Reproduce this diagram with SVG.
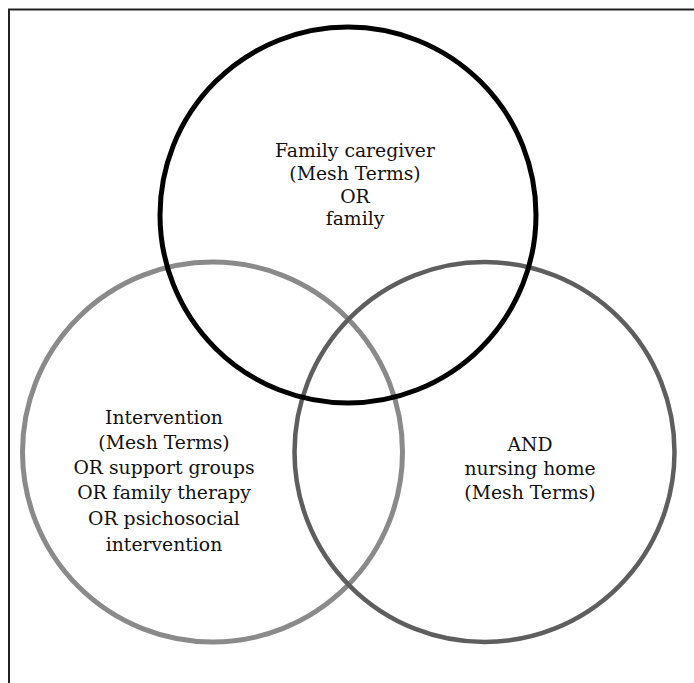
<svg xmlns="http://www.w3.org/2000/svg" width="694" height="683" viewBox="0 0 694 683">
<style>
.lbl{font-family:"DejaVu Serif","Liberation Serif",serif;font-size:18.8px;fill:#111;text-anchor:middle}
.c{fill:none}
</style>
<rect width="694" height="683" fill="#fff"/>
<path d="M9,683 V9.5 H694" fill="none" stroke="#222" stroke-width="2"/>
<g id="connectors"></g>
<g id="node-left">
<circle class="c" cx="212.5" cy="452" r="190" stroke="#8a8a8a" stroke-width="5"/>
</g>
<g id="node-right">
<circle class="c" cx="484.5" cy="452" r="190" stroke="#5e5e5e" stroke-width="4.5"/>
</g>
<g id="node-top">
<circle class="c" cx="348" cy="215" r="188" stroke="#000" stroke-width="5"/>
<text class="lbl" x="355" y="157">Family caregiver</text>
<text class="lbl" x="355" y="180">(Mesh Terms)</text>
<text class="lbl" x="355" y="202.5">OR</text>
<text class="lbl" x="355" y="225">family</text>
</g>
<g id="text-left">
<text class="lbl" x="164" y="424">Intervention</text>
<text class="lbl" x="164" y="449">(Mesh Terms)</text>
<text class="lbl" x="164" y="474">OR support groups</text>
<text class="lbl" x="164" y="499">OR family therapy</text>
<text class="lbl" x="164" y="525">OR psichosocial</text>
<text class="lbl" x="164" y="551">intervention</text>
</g>
<g id="text-right">
<text class="lbl" x="530" y="451">AND</text>
<text class="lbl" x="530" y="475">nursing home</text>
<text class="lbl" x="530" y="499">(Mesh Terms)</text>
</g>
</svg>
